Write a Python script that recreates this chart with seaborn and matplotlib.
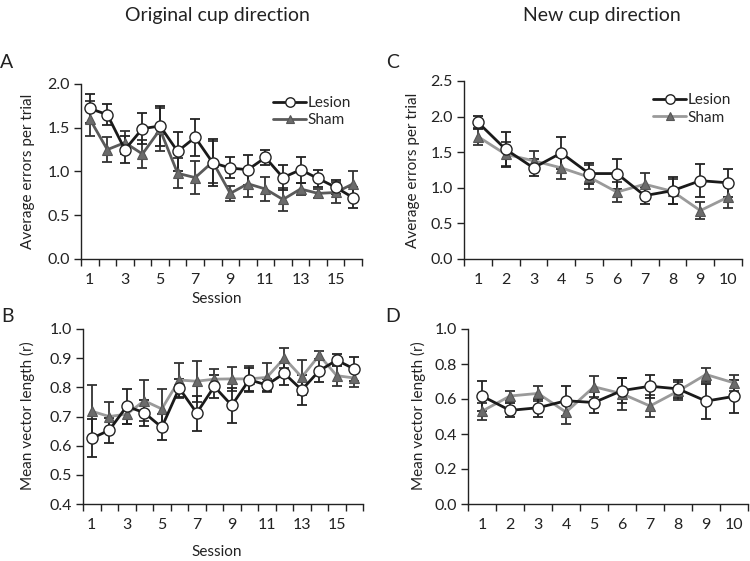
import numpy as np
import pandas as pd
import matplotlib
matplotlib.use("Agg")
import matplotlib.pyplot as plt
import seaborn as sns

# ---------------- data ----------------
sessions_orig = list(range(1, 17))
sessions_new = list(range(1, 11))

# Panel A: average errors per trial, original cup direction
a_lesion = [1.72, 1.65, 1.25, 1.49, 1.52, 1.23, 1.39, 1.10, 1.04, 1.02, 1.16, 0.93, 1.02, 0.92, 0.82, 0.70]
a_lesion_se = [0.17, 0.12, 0.15, 0.18, 0.23, 0.22, 0.21, 0.27, 0.12, 0.17, 0.09, 0.14, 0.15, 0.10, 0.08, 0.12]
a_sham = [1.60, 1.25, 1.33, 1.20, 1.48, 0.98, 0.93, 1.11, 0.75, 0.86, 0.80, 0.68, 0.80, 0.75, 0.76, 0.86]
a_sham_se = [0.20, 0.14, 0.13, 0.16, 0.25, 0.17, 0.19, 0.24, 0.09, 0.15, 0.14, 0.13, 0.07, 0.05, 0.12, 0.15]

# Panel B: mean vector length, original cup direction
b_lesion = [0.625, 0.653, 0.735, 0.713, 0.663, 0.797, 0.712, 0.803, 0.738, 0.826, 0.808, 0.848, 0.791, 0.857, 0.893, 0.863]
b_lesion_se = [0.065, 0.043, 0.06, 0.045, 0.045, 0.03, 0.06, 0.04, 0.06, 0.04, 0.02, 0.04, 0.05, 0.04, 0.02, 0.04]
b_sham = [0.718, 0.700, 0.708, 0.754, 0.726, 0.825, 0.821, 0.828, 0.829, 0.829, 0.834, 0.900, 0.835, 0.910, 0.840, 0.832]
b_sham_se = [0.09, 0.05, 0.035, 0.07, 0.07, 0.06, 0.07, 0.035, 0.04, 0.045, 0.05, 0.035, 0.06, 0.015, 0.035, 0.03]

# Panel C: average errors per trial, new cup direction
c_lesion = [1.92, 1.54, 1.28, 1.49, 1.20, 1.20, 0.89, 0.96, 1.10, 1.07]
c_lesion_se = [0.09, 0.25, 0.12, 0.22, 0.15, 0.21, 0.12, 0.19, 0.23, 0.20]
c_sham = [1.72, 1.47, 1.38, 1.28, 1.15, 0.94, 1.05, 0.95, 0.68, 0.87]
c_sham_se = [0.12, 0.17, 0.13, 0.15, 0.17, 0.14, 0.16, 0.18, 0.12, 0.15]

# Panel D: mean vector length, new cup direction
d_lesion = [0.617, 0.535, 0.550, 0.590, 0.580, 0.648, 0.673, 0.658, 0.588, 0.615]
d_lesion_se = [0.085, 0.04, 0.05, 0.085, 0.06, 0.07, 0.065, 0.05, 0.10, 0.095]
d_sham = [0.530, 0.617, 0.632, 0.525, 0.670, 0.630, 0.560, 0.645, 0.740, 0.692]
d_sham_se = [0.05, 0.03, 0.045, 0.07, 0.06, 0.09, 0.065, 0.05, 0.04, 0.045]

groups = ["Lesion", "Sham"]
titles = ["Original cup direction", "New cup direction"]
ylab_err = "Average errors per trial"
ylab_vec = "Mean vector length (r)"
xlab = "Session"

# ---------------- style ----------------
sns.set_theme(style="white")
plt.rcParams["font.family"] = ["Lato", "DejaVu Sans"]
plt.rcParams["axes.linewidth"] = 1.0

W, H = 750, 561
fig = plt.figure(figsize=(W / 100, H / 100), dpi=100)


def ax_at(l, r, t, b):
    return fig.add_axes([l / W, 1 - b / H, (r - l) / W, (b - t) / H])


axA = ax_at(81, 362, 84, 259)
axC = ax_at(464, 742, 81, 259)
axB = ax_at(83, 363, 329, 504)
axD = ax_at(468, 748, 329, 504)

LESION_C = "#1a1a1a"


def draw(ax, sess, les, les_se, sham, sham_se, sham_line, ylim, ystep, odd_only, legend):
    df = pd.DataFrame({
        "Session": sess + sess,
        "value": les + sham,
        "group": [groups[0]] * len(sess) + [groups[1]] * len(sess),
    })
    ax.errorbar(sess, sham, yerr=sham_se, fmt="none", ecolor="#333333",
                elinewidth=1.3, capsize=3.5, capthick=1.3, zorder=2)
    ax.errorbar(sess, les, yerr=les_se, fmt="none", ecolor="#222222",
                elinewidth=1.3, capsize=3.5, capthick=1.3, zorder=2)
    sns.lineplot(data=df[df.group == "Sham"], x="Session", y="value", ax=ax,
                 color=sham_line, lw=2.0, marker="^", markersize=7,
                 markerfacecolor="#6b6b6b", markeredgecolor="#555555",
                 markeredgewidth=0.8, label="Sham", zorder=3, legend=False)
    sns.lineplot(data=df[df.group == "Lesion"], x="Session", y="value", ax=ax,
                 color=LESION_C, lw=2.0, marker="o", markersize=8,
                 markerfacecolor="white", markeredgecolor="#222222",
                 markeredgewidth=1.0, label="Lesion", zorder=4, legend=False)
    n = len(sess)
    ax.set_xlim(0.5, n + 0.5)
    ax.set_ylim(*ylim)
    ax.set_yticks(np.round(np.arange(ylim[0], ylim[1] + 1e-9, ystep), 2))
    ax.yaxis.set_major_formatter(matplotlib.ticker.FormatStrFormatter("%.1f"))
    labs = [s for s in sess if (s % 2 == 1 or not odd_only)]
    ax.set_xticks(labs)
    ax.set_xticklabels([str(s) for s in labs])
    ax.set_xticks(np.arange(0.5, n + 1, 1.0), minor=True)
    ax.tick_params(axis="x", which="major", length=0, pad=10, labelsize=11.5, colors="#222222")
    ax.tick_params(axis="x", which="minor", length=5, width=1, direction="out",
                   bottom=True, color="#222222")
    ax.tick_params(axis="y", which="major", length=5, width=1, direction="out",
                   left=True, labelsize=11.5, colors="#222222", pad=3)
    for s in ["top", "right"]:
        ax.spines[s].set_visible(False)
    for s in ["left", "bottom"]:
        ax.spines[s].set_color("#222222")
    ax.set_xlabel("")
    ax.set_ylabel("")
    ax.grid(False)
    if legend:
        handles, labels = ax.get_legend_handles_labels()
        order = [labels.index("Lesion"), labels.index("Sham")]
        ax.legend([handles[i] for i in order], [labels[i] for i in order],
                  loc="upper right", bbox_to_anchor=(1.0, 0.99), frameon=False,
                  fontsize=11, handlelength=2.2, handletextpad=0.1,
                  labelspacing=0.2, borderaxespad=0.3, markerscale=0.85)


draw(axA, sessions_orig, a_lesion, a_lesion_se, a_sham, a_sham_se, "#5a5a5a",
     (0.0, 2.0), 0.5, True, True)
draw(axC, sessions_new, c_lesion, c_lesion_se, c_sham, c_sham_se, "#9a9a9a",
     (0.0, 2.5), 0.5, False, True)
draw(axB, sessions_orig, b_lesion, b_lesion_se, b_sham, b_sham_se, "#9a9a9a",
     (0.4, 1.0), 0.1, True, False)
draw(axD, sessions_new, d_lesion, d_lesion_se, d_sham, d_sham_se, "#9a9a9a",
     (0.0, 1.0), 0.2, False, False)

# titles
fig.text(217 / W, 1 - 15 / H, titles[0], ha="center", va="center", fontsize=14, color="#222222")
fig.text(602 / W, 1 - 15 / H, titles[1], ha="center", va="center", fontsize=14, color="#222222")

# panel letters
for lt, x, y in [("A", 7, 63), ("C", 393, 63), ("B", 7, 316), ("D", 393, 316)]:
    fig.text(x / W, 1 - y / H, lt, ha="center", va="center", fontsize=14, color="#222222")

# y labels
fig.text(28 / W, 1 - 171 / H, ylab_err, rotation=90, ha="center", va="center", fontsize=11, color="#222222")
fig.text(413 / W, 1 - 170 / H, ylab_err, rotation=90, ha="center", va="center", fontsize=11, color="#222222")
fig.text(27 / W, 1 - 416 / H, ylab_vec, rotation=90, ha="center", va="center", fontsize=11, color="#222222")
fig.text(418 / W, 1 - 416 / H, ylab_vec, rotation=90, ha="center", va="center", fontsize=11, color="#222222")

# x labels (left column only)
fig.text(217 / W, 1 - 299 / H, xlab, ha="center", va="center", fontsize=11, color="#222222")
fig.text(217 / W, 1 - 552 / H, xlab, ha="center", va="center", fontsize=11, color="#222222")

fig.savefig("out.png", dpi=100, facecolor="white")
